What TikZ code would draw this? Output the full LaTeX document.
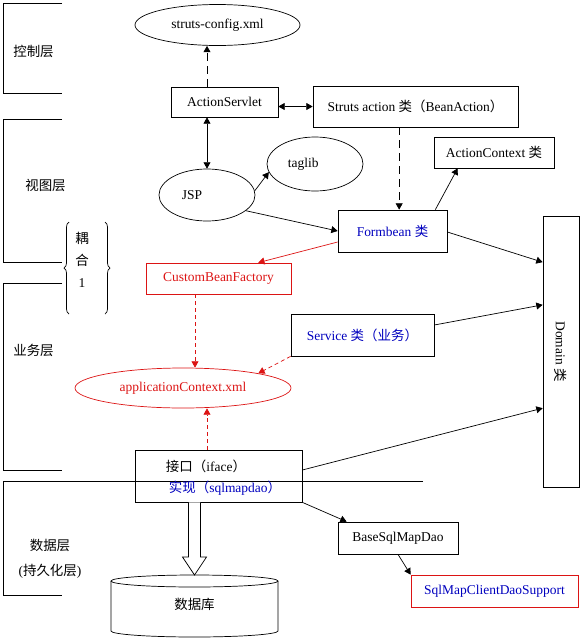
\documentclass[tikz,border=0pt]{standalone}
\usepackage{fontspec}
\setmainfont{Liberation Serif}
\newfontfamily\cjk{Noto Sans CJK SC}
\usetikzlibrary{shapes.geometric,arrows.meta,calc,decorations.pathreplacing}
\definecolor{cfgred}{RGB}{220,20,20}
\definecolor{txtblue}{RGB}{0,0,190}

\begin{document}
\begin{tikzpicture}[
  x=0.3mm, y=0.3mm,
  font=\fontsize{11.5}{14}\selectfont,
  line width=0.6pt,
  box/.style    = {rectangle, draw, inner sep=1pt},
  ell/.style    = {ellipse, draw, inner sep=1pt},
  redbox/.style = {box, draw=cfgred, text=cfgred},
  fl/.style     = {-{Triangle[length=1.9mm,width=2.1mm]}},
  dbl/.style    = {{Triangle[length=1.9mm,width=2.1mm]}-{Triangle[length=1.9mm,width=2.1mm]}},
  dfl/.style    = {fl, dash pattern=on 2.4mm off 1.5mm},
  rfl/.style    = {fl, cfgred},
  rdfl/.style   = {rfl, dash pattern=on 1.2mm off 0.9mm},
  lab/.style    = {inner sep=0pt, align=center}
]
\useasboundingbox (0,0) rectangle (582,-640);

% --- Schichten links ----------------------------------------------------------
\foreach \ya/\yb in {3/93,119/262,283/470}
  \draw (62,-\ya) -- (3,-\ya) -- (3,-\yb) -- (62,-\yb);
\draw (423,-481) -- (3,-481) -- (3,-595) -- (62,-595);

\node[lab] (ctrl) at (33.5,-51)  {\cjk 控制层};
\node[lab] (view) at (45.5,-185) {\cjk 视图层};
\node[lab] (biz)  at (33.5,-350) {\cjk 业务层};
\node[lab, font=\fontsize{11.5}{21}\selectfont] (data) at (50,-559)
     {{\cjk 数据层}\\({\cjk 持久化层})};

% --- Kopplung ---------------------------------------------------------------
\draw[decorate, decoration={brace, amplitude=1.5mm}] (69,-314) -- (69,-222);
\draw[decorate, decoration={brace, amplitude=1.5mm}] (105,-222) -- (105,-314);
\node[lab, font=\fontsize{11.5}{19}\selectfont] (couple) at (82,-260)
     {{\cjk 耦}\\{\cjk 合}\\1};

% --- Knoten -----------------------------------------------------------------
\node[ell, minimum width=49.5mm, minimum height=12.3mm] (config) at (217.5,-25) {struts-config.xml};
\node[box, minimum width=32.1mm, minimum height=9mm] (servlet) at (224.5,-102) {ActionServlet};
\node[box, minimum width=61.5mm, minimum height=12.3mm] (action) at (415.5,-106.5)
     {Struts action {\cjk 类（}BeanAction{\cjk ）}};
\node[box, minimum width=36mm, minimum height=9.3mm] (ctx) at (494,-152.5) {ActionContext {\cjk 类}};
\node[ell, minimum width=28.8mm, minimum height=16.2mm] (taglib) at (315,-164) {taglib\hspace*{7mm}};
\node[ell, minimum width=28.8mm, minimum height=15.6mm] (jsp) at (207,-195) {JSP\hspace*{9mm}};
\node[box, text=txtblue, minimum width=32.7mm, minimum height=12.6mm] (formbean) at (392.5,-231)
     {Formbean {\cjk 类}};
\node[box, minimum width=10.8mm, minimum height=81.3mm] (domain) at (561,-351.5)
     {\rotatebox{-90}{Domain {\cjk 类}}};
\node[redbox, minimum width=43.5mm, minimum height=9.3mm] (cbf) at (218.5,-278.5) {CustomBeanFactory};
\node[box, text=txtblue, minimum width=42.9mm, minimum height=12.6mm] (service) at (362.5,-335)
     {Service {\cjk 类（业务）}};
\node[ell, draw=cfgred, text=cfgred, minimum width=64.8mm, minimum height=12mm] (appctx) at (183,-388)
     {applicationContext.xml};
\node[box, minimum width=50.1mm, minimum height=15.6mm] (iface) at (218.5,-476) {};
\node[lab] (ifacetxt) at (206,-466) {{\cjk 接口（}iface{\cjk ）}};
\node[lab, text=txtblue] (impltxt) at (225,-488) {{\cjk 实现（}sqlmapdao{\cjk ）}};
\node[box, minimum width=36mm, minimum height=9.6mm] (basedao) at (398,-538) {BaseSqlMapDao};
\node[redbox, text=txtblue, minimum width=50.1mm, minimum height=9.6mm] (support) at (494.5,-591)
     {SqlMapClientDaoSupport};

% --- Datenbank ----------------------------------------------------------------
\node[lab] (db) at (194.5,-604) {\cjk 数据库};
\draw (111,-581) -- (111,-631) arc[start angle=180, end angle=360, x radius=83.5, y radius=6] -- (278,-581);
\draw (194.5,-581) ellipse [x radius=83.5, y radius=6];
\coordinate (dbtop) at (194.5,-575);

% --- Verbindungen -------------------------------------------------------------
\draw[dfl] (jsp.north |- servlet.north) -- (jsp.north |- config.south);
\draw[dbl] (servlet.east |- action.west) -- (action.west);
\draw[dbl] (servlet.south -| jsp.north) -- (jsp.north);
\draw[fl]  (jsp.5) -- (taglib.190);
\draw[fl]  (jsp.-22) -- (formbean.west);
\draw[dfl] ([xshift=2mm]formbean.north |- action.south) -- ([xshift=2mm]formbean.north);
\draw[fl]  ([xshift=-3.6mm]formbean.north east) -- ([xshift=7.2mm]ctx.south west);
\draw[fl]  ([yshift=-0.3mm]formbean.east) -- ([yshift=26.8mm]domain.west);
\draw[fl]  ([yshift=3mm]service.east) -- ([yshift=14mm]domain.west);
\draw[fl]  ([yshift=1.8mm]iface.east) -- ([yshift=-17mm]domain.west);
\draw[rfl] ([yshift=-3.3mm]formbean.west) -- ([xshift=11.9mm]cbf.north);
\draw[rdfl] ([xshift=3.6mm]appctx.north |- cbf.south) -- ([xshift=3.6mm]appctx.north);
\draw[rdfl] (service.south west) -- (appctx.11);
\draw[rdfl] ([xshift=7.2mm]appctx.south |- iface.north) -- ([xshift=7.2mm]appctx.south);
\draw[fl]  (iface.south east) -- ([xshift=2.7mm]basedao.north west);
\draw[fl]  (basedao.south) -- (support.north west);

% --- Hohlpfeil zur Datenbank ----------------------------------------------------
\draw[fill=white] ($(dbtop |- iface.south)+(-6,0)$) -- ($(dbtop)+(-6,18)$) -- ++(-6,0) -- (dbtop)
  -- ($(dbtop)+(12,18)$) -- ++(-6,0) -- ($(dbtop |- iface.south)+(6,0)$);

\end{tikzpicture}
\end{document}
